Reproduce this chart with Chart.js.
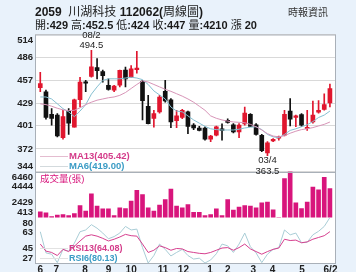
<!DOCTYPE html>
<html>
<head>
<meta charset="utf-8">
<script src="https://cdn.jsdelivr.net/npm/chart.js@4.4.0/dist/chart.umd.min.js"></script>
<style>
  html, body { margin: 0; padding: 0; background: #e9f2fb; }
  canvas { display: block; }
</style>
</head>
<body>
<canvas id="kline" width="356" height="272"></canvas>
<script>
// weekly candles
const opens  = [448, 443, 415, 414, 386, 419, 399, 433, 454.5, 462, 473, 468, 451, 445, 451, 470, 461, 470.5,
                456, 425, 410, 418, 443.5, 433, 407, 411, 418, 401.5, 398, 398, 384, 389, 395.5, 407.5, 402, 393,
                403, 415, 402, 389, 367, 382, 385.5, 389, 419, 411, 414.5, 397, 405.5, 417.5, 421, 429];
const highs  = [467, 445, 422, 416, 420, 422, 434, 461, 457, 494.5, 484, 470, 459, 451, 470, 473.5, 475.5, 493,
                457, 438.5, 420, 438.5, 457, 434.5, 420, 421, 419, 403.5, 400, 399.5, 389, 400.5, 403, 409.5, 403.5, 403.5,
                424, 416, 403.5, 390, 381, 385, 388, 420, 434.5, 414, 416, 420, 431.5, 432, 440.5, 452.5];
const lows   = [443, 409, 401.5, 387, 384, 390, 399, 424, 443, 461, 459, 455, 445, 443, 449, 449, 461, 466,
                408, 403, 399, 416.5, 430, 398.5, 398.5, 409.5, 391, 396, 394.5, 383, 381, 388, 383, 404, 392, 386,
                401.5, 399.5, 389, 368.5, 363.5, 381, 383, 388, 400.5, 399.5, 400, 395, 404, 416.5, 420, 424];
const closes = [453, 411, 410, 388, 412, 404, 433, 455, 453.5, 474, 469, 463, 446, 450, 469.5, 459, 471.5, 471.5,
                432, 403.5, 416, 436.5, 431.5, 405.5, 413, 420, 400, 398, 395, 384, 388, 399.5, 395, 405, 393, 401.5,
                416.5, 400, 390, 370, 379.5, 384, 386.5, 415, 409, 413, 401.5, 398, 414, 420, 427, 447];
const volumes = [1163, 1030, 548, 720, 807, 676, 940, 1990, 1250, 3530, 1900, 1550, 1550, 676, 1680, 1600, 2560, 4000,
                 3440, 1680, 1250, 2040, 2780, 4140, 1900, 1680, 2120, 1100, 1100, 676, 807, 1550, 676, 2780, 1380, 1770,
                 1990, 1900, 1680, 2340, 2430, 1430, 413, 5530, 6460, 2340, 1600, 2430, 4400, 4050, 5710, 4210];
const ma13 = [428, 427, 425, 422.5, 420.5, 419.5, 420, 423, 427, 430, 432.5, 434, 435.5, 436.5, 438.5, 442, 447, 452,
              456.5, 455, 452, 449, 446, 443.5, 440.5, 437.5, 434, 430, 425, 420, 413, 410, 408, 406.5, 405.5, 405,
              404.5, 402.5, 399.5, 395.5, 391, 388, 387, 388.5, 391.5, 394, 396, 397, 398.5, 400.5, 402.5, 405.42];
const ma6  = [436.5, 436.5, 434, 428, 422, 418, 412, 419, 427, 440, 449, 457, 459, 459, 459, 460, 461, 460,
              458, 452, 444, 439, 434, 424, 419, 418, 413, 408, 404, 400, 397, 396, 395.5, 395.5, 395.5, 396.5,
              398, 399, 399.5, 396, 390, 387, 386, 390, 395, 397, 399.5, 402, 406, 411, 414, 419];
const rsi13 = [50, 42, 40.5, 37, 44, 41.5, 47.5, 53.5, 59, 60.5, 59, 56.5, 53.5, 55.5, 58, 61, 59.5, 59,
               50, 40.5, 43, 48, 46, 43, 45, 44.5, 41.5, 40.5, 39.5, 39, 40.5, 43, 45.5, 46, 43, 46,
               50, 44.5, 41.5, 38.5, 41.5, 44, 45.5, 55.5, 54, 54.5, 51.5, 52.5, 55.5, 57.5, 59.5, 64.08];
const rsi6  = [64, 40, 38.5, 29, 44, 42, 51, 64, 66, 72, 68, 62.5, 56, 58.5, 62.5, 70, 66, 67,
               46, 28.5, 37, 50, 44, 36.5, 40.5, 44, 37, 33, 34, 28.5, 32, 39, 50, 48, 40.5, 50,
               62.5, 47, 40, 29, 38.5, 44, 46, 66, 60.5, 62.5, 51.5, 52, 60.5, 64.5, 70, 80.13];

const monthPos    = [0, 2.8, 7.9, 12, 16, 21.6, 25.2, 29.9, 33, 37.5, 40.9, 46.1, 51.1];
const monthLabels = ['6', '7', '8', '9', '10', '11', '12', '1', '2', '3', '4', '5', '6/2'];
const priceTicks = [344, 372, 401, 429, 457, 486, 514];
const volTicks   = [413, 2429, 4444, 6460];
const rsiTicks   = [27, 45, 63, 80];
const hiLabel = '08/2', loLabel = '03/4';

const FONT = '"Liberation Sans", Arial, "Noto Sans CJK TC", sans-serif';
const upColor = '#e0162e', downColor = '#111111';
const idx = closes.map((_, i) => i);
const candleColor = ctx => closes[ctx.dataIndex] >= opens[ctx.dataIndex] ? upColor : downColor;
const last = closes.length - 1;

function drawRuns(ctx, x, y, runs, size) {
    runs.forEach(([t, bold]) => {
        ctx.font = (bold ? 'bold ' : '') + size + 'px ' + FONT;
        ctx.fillText(t, x, y);
        x += ctx.measureText(t).width;
    });
}

const panelText = {
    id: 'panelText',
    beforeDraw(chart) {
        const { ctx, chartArea: a } = chart;
        ctx.save();
        ctx.fillStyle = '#ffffff';
        ctx.fillRect(a.left, a.top, a.right - a.left, a.bottom - a.top);
        ctx.restore();
    },
    afterDraw(chart) {
        const { ctx, chartArea: a, scales } = chart;
        const { x, yPrice, yVol, yRsi } = scales;
        ctx.save();

        // frame and panel separator
        ctx.strokeStyle = '#a9b0b8';
        ctx.lineWidth = 1;
        ctx.strokeRect(a.left + 0.5, a.top + 0.5, a.right - a.left - 1, a.bottom - a.top - 1);
        ctx.beginPath();
        ctx.moveTo(a.left, Math.round(yPrice.bottom) + 0.5);
        ctx.lineTo(a.right, Math.round(yPrice.bottom) + 0.5);
        ctx.stroke();

        // y labels
        ctx.fillStyle = '#222';
        ctx.font = 'bold 9.5px ' + FONT;
        ctx.textAlign = 'right';
        ctx.textBaseline = 'middle';
        [[yPrice, priceTicks], [yVol, volTicks], [yRsi, rsiTicks]].forEach(([s, ticks]) => {
            ticks.forEach(v => {
                let y = s.getPixelForValue(v);
                y = Math.min(Math.max(y, s.top + 6), s.bottom - 5.5);
                ctx.fillText(String(v), a.left - 2, y);
            });
        });

        // x labels
        ctx.textAlign = 'center';
        ctx.textBaseline = 'top';
        ctx.font = 'bold 10px ' + FONT;
        monthPos.forEach((p, k) => ctx.fillText(monthLabels[k], x.getPixelForValue(p), a.bottom + 1.5));

        // high / low notes
        const hiIdx = highs.indexOf(Math.max(...highs));
        const loIdx = lows.indexOf(Math.min(...lows));
        ctx.font = '9.5px ' + FONT;
        ctx.textBaseline = 'middle';
        const hx = x.getPixelForValue(hiIdx), hy = yPrice.getPixelForValue(highs[hiIdx]);
        ctx.fillText(hiLabel, hx, hy - 15);
        ctx.fillText(String(highs[hiIdx]), hx, hy - 5);
        const lx = x.getPixelForValue(loIdx), ly = yPrice.getPixelForValue(lows[loIdx]);
        ctx.fillText(loLabel, lx, ly + 4.5);
        ctx.fillText(String(lows[loIdx]), lx, ly + 16);

        // panel legends
        const legend = (y, lineColor, textColor, text) => {
            ctx.strokeStyle = lineColor;
            ctx.beginPath();
            ctx.moveTo(a.left + 5, Math.round(y) + 0.5);
            ctx.lineTo(a.left + 33, Math.round(y) + 0.5);
            ctx.stroke();
            ctx.fillStyle = textColor;
            ctx.textAlign = 'left';
            ctx.fillText(text, a.left + 34, y);
        };
        ctx.font = 'bold 9.5px ' + FONT;
        legend(yPrice.bottom - 15.5, '#e4bcd0', '#d43c8a', 'MA13(' + ma13[last].toFixed(2) + ')');
        legend(yPrice.bottom - 5.5, '#d3dadd', '#3b9cc5', 'MA6(' + ma6[last].toFixed(2) + ')');
        ctx.font = 'bold 9px ' + FONT;
        legend(yRsi.bottom - 15.7, '#e2e2e2', '#d43c8a', 'RSI13(' + rsi13[last].toFixed(2) + ')');
        legend(yRsi.bottom - 5.7, '#e2e2e2', '#3b9cc5', 'RSI6(' + rsi6[last].toFixed(2) + ')');
        ctx.fillStyle = '#d8157c';
        ctx.font = '9.5px ' + FONT;
        ctx.fillText('成交量(張)', a.left + 5, yVol.top + 8);

        // header
        ctx.fillStyle = '#1a1a1a';
        ctx.textBaseline = 'alphabetic';
        drawRuns(ctx, 35, 16, [['2059', 1], ['  ', 1], ['川湖科技', 0], [' ', 1], ['112062(', 1], ['周線圖', 0], [')', 1]], 12);
        const chg = closes[last] - closes[last - 1];
        drawRuns(ctx, 35, 28.5, [
            ['開', 0], [':' + opens[last] + ' ', 1], ['高', 0], [':' + highs[last] + ' ', 1],
            ['低', 0], [':' + lows[last] + ' ', 1], ['收', 0], [':' + closes[last] + ' ', 1],
            ['量', 0], [':' + volumes[last] + ' ', 1], ['漲', 0], [' ' + chg, 1]
        ], 11);
        ctx.fillStyle = '#333';
        ctx.font = '10px ' + FONT;
        ctx.fillText('時報資訊', 288, 16);
        ctx.restore();
    }
};

const lineSet = (axis, values, color, order) => ({
    type: 'line', yAxisID: axis, order,
    data: idx.map(i => ({ x: i, y: values[i] })),
    borderColor: color, borderWidth: 1, pointRadius: 0, tension: 0
});

new Chart(document.getElementById('kline'), {
    type: 'bar',
    data: {
        datasets: [
            lineSet('yPrice', ma13, '#d895b8', 0),
            lineSet('yPrice', ma6, '#86c0d2', 0),
            {
                yAxisID: 'yPrice', order: 1, grouped: false,
                data: idx.map(i => ({ x: i, y: [opens[i], closes[i]] })),
                backgroundColor: candleColor, barThickness: 4, minBarLength: 1.5
            },
            {
                yAxisID: 'yPrice', order: 2, grouped: false,
                data: idx.map(i => ({ x: i, y: [lows[i], highs[i]] })),
                backgroundColor: candleColor, barThickness: 1
            },
            {
                yAxisID: 'yVol', order: 1, grouped: false,
                data: idx.map(i => ({ x: i, y: volumes[i] })),
                backgroundColor: '#d8157c', barThickness: 4
            },
            lineSet('yRsi', rsi13, '#d6408f', 0),
            lineSet('yRsi', rsi6, '#a9cdd6', 0)
        ]
    },
    options: {
        responsive: false,
        animation: false,
        layout: { padding: { left: 35, right: 20, top: 34.5, bottom: 8 } },
        plugins: { legend: { display: false }, tooltip: { enabled: false } },
        scales: {
            x: { type: 'linear', min: -0.93, max: 52.07, offset: false, display: false },
            yPrice: {
                type: 'linear', position: 'left', stack: 'panels', stackWeight: 137, weight: 3,
                min: 344, max: 514,
                afterBuildTicks: s => { s.ticks = priceTicks.map(v => ({ value: v })); },
                ticks: { display: false },
                grid: { color: '#d9d9d9', drawTicks: false },
                border: { display: false }
            },
            yVol: {
                type: 'linear', position: 'left', stack: 'panels', stackWeight: 46, weight: 2,
                min: 413, max: 6460,
                ticks: { display: false },
                grid: { display: false, drawTicks: false },
                border: { display: false }
            },
            yRsi: {
                type: 'linear', position: 'left', stack: 'panels', stackWeight: 46.5, weight: 1,
                min: 27.4, max: 80.13,
                ticks: { display: false },
                grid: { display: false, drawTicks: false },
                border: { display: false }
            }
        }
    },
    plugins: [panelText]
});
</script>
</body>
</html>
